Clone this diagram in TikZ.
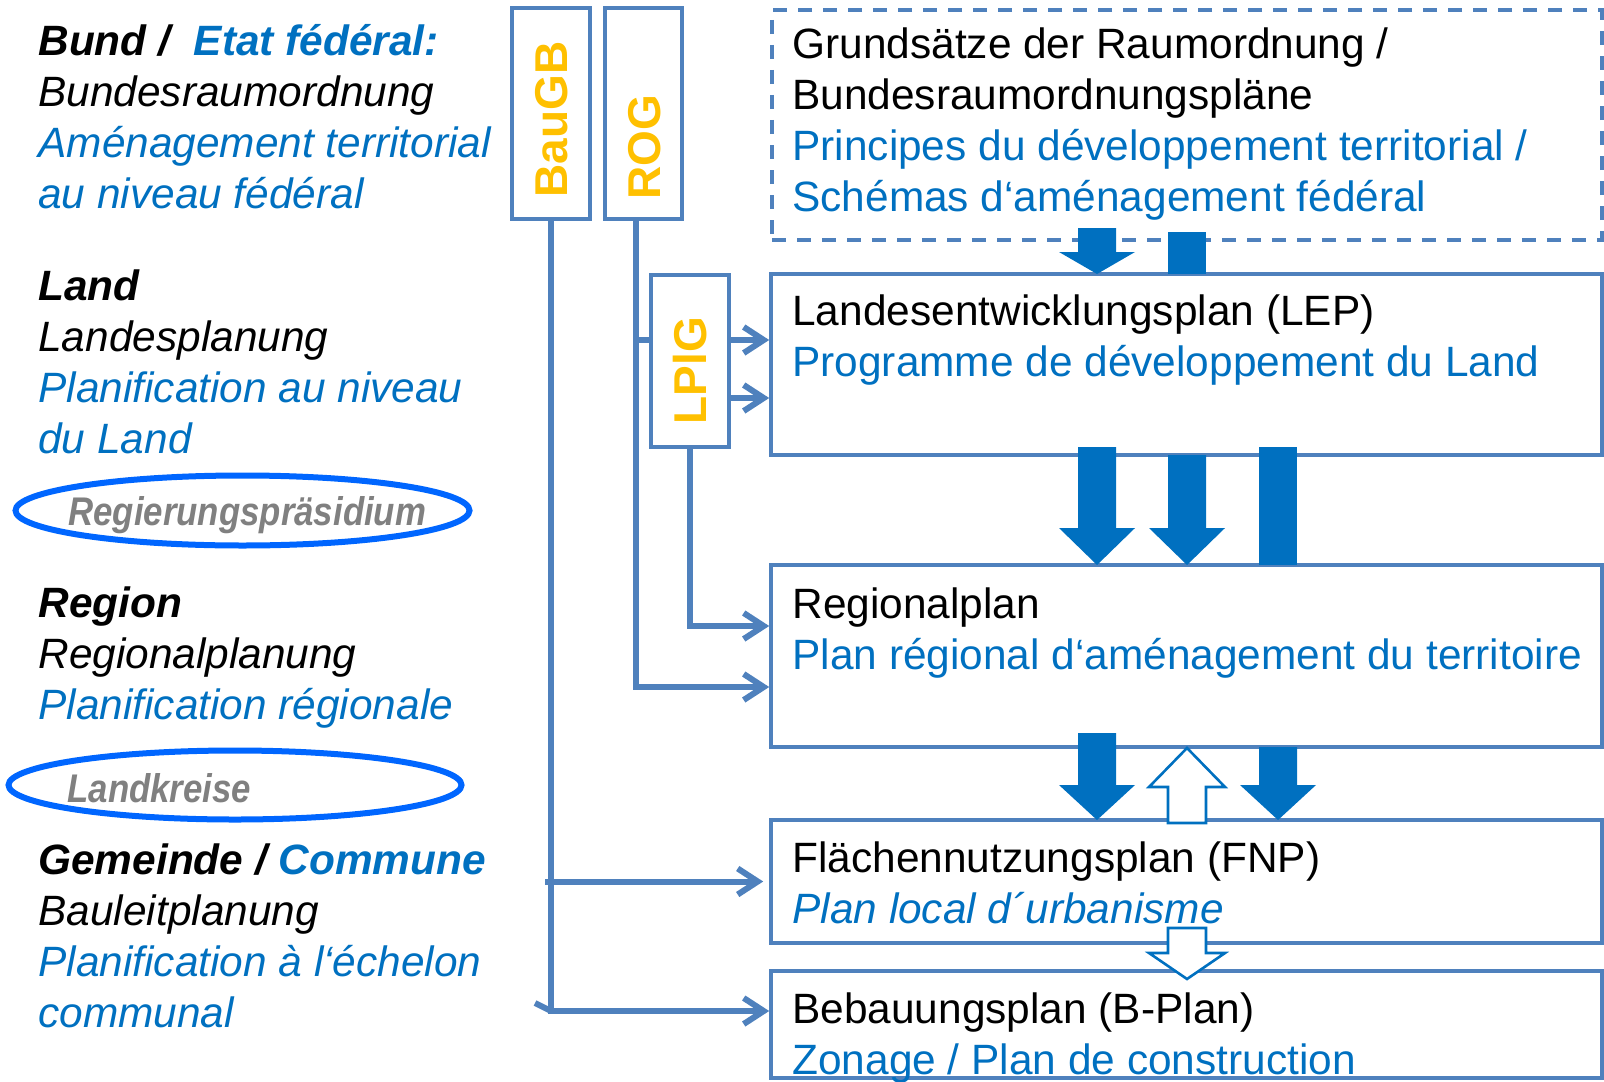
\documentclass[tikz,border=0pt]{standalone}
\usepackage{graphicx}
\usepackage{fontspec}
\setmainfont{Liberation Sans}
\usetikzlibrary{arrows.meta,shapes.geometric}

\definecolor{tblue}{HTML}{0070C0}
\definecolor{lineblue}{HTML}{4F81BD}
\definecolor{ovalblue}{HTML}{0066FF}
\definecolor{lawgold}{HTML}{FFC000}
\definecolor{kreisgray}{HTML}{808080}

% block arrow: x, tail y, head base y, tip y
\newcommand{\blockarrow}[5][fatarrow]{%
  \path[#1] (#2-19,#3) -- (#2+19,#3) -- (#2+19,#4) -- (#2+38,#4)
    -- (#2,#5) -- (#2-38,#4) -- (#2-19,#4) -- cycle;}
\newcommand{\narrow}[1]{\scalebox{0.87}[1]{#1}}

\begin{document}
\begin{tikzpicture}[x=0.5pt,y=-0.5pt,
  box/.style={draw=lineblue,line width=1.8pt,inner sep=0pt},
  lawbox/.style={box,minimum width=39pt,minimum height=105.5pt},
  plan/.style={box,minimum width=415.5pt},
  law/.style={text=lawgold,font=\fontsize{23}{27}\selectfont\bfseries,rotate=90,inner sep=0pt},
  txt/.style={anchor=north west,align=left,inner sep=0pt,font=\fontsize{21.2}{25.5}\selectfont},
  lefttxt/.style={txt,font=\fontsize{21.2}{25.5}\selectfont\itshape},
  oval/.style={draw=ovalblue,line width=3pt,ellipse,inner sep=0pt},
  authority/.style={anchor=base west,inner sep=0pt,text=kreisgray,font=\fontsize{20}{24}\selectfont\bfseries\itshape},
  conn/.style={draw=lineblue,line width=3pt,-{Straight Barb[length=10pt,width=13pt]}},
  fatarrow/.style={fill=tblue},
  openarrow/.style={draw=tblue,fill=white,line width=1.3pt}]

\useasboundingbox (0,0) rectangle (1604,1081);

% levels on the left
\node[lefttxt] (bund) at (38,19.3) {\strut\textbf{Bund /\ \ \textcolor{tblue}{Etat fédéral:}}\\
  Bundesraumordnung\\
  \textcolor{tblue}{Aménagement territorial}\\
  \textcolor{tblue}{au niveau fédéral}};
\node[lefttxt] (land) at (38,264.3) {\strut\textbf{Land}\\
  Landesplanung\\
  \textcolor{tblue}{Planification au niveau}\\
  \textcolor{tblue}{du Land}};
\node[lefttxt] (region) at (38,581.3) {\strut\textbf{Region}\\
  Regionalplanung\\
  \textcolor{tblue}{Planification régionale}};
\node[lefttxt] (gemeinde) at (38,838.3) {\strut\textbf{Gemeinde / \textcolor{tblue}{Commune}}\\
  Bauleitplanung\\
  \textcolor{tblue}{Planification à l‘échelon}\\
  \textcolor{tblue}{communal}};

\node[oval,minimum width=227pt,minimum height=35pt] (rpoval) at (242.5,510.5) {};
\node[authority] (rpraes) at (68,525) {\narrow{Regierungspräsidium}};
\node[oval,minimum width=226.5pt,minimum height=34.5pt] (lkoval) at (235,785) {};
\node[authority] (lkreise) at (67,802) {\narrow{Landkreise}};

% laws
\node[lawbox] (baugb) at (551,113.5) {};
\node[lawbox,minimum width=38.5pt] (rog) at (643.5,113.5) {};
\node[lawbox,minimum height=86pt] (lplg) at (690,361) {};
\node[law] (baugbtext) at (552,119.5) {BauGB};
\node[law] (rogtext) at (645,147) {ROG};
\node[law] (lplgtext) at (690,370.5) {LPlG};

% plans
\node[plan,minimum width=415pt,minimum height=115pt,line width=2pt,dash pattern=on 7pt off 5.5pt] (fed) at (1187,125) {};
\node[plan,minimum height=90.5pt] (lep) at (1186.5,364.5) {};
\node[plan,minimum height=91pt] (rp) at (1186.5,656) {};
\node[plan,minimum height=61.5pt] (fnp) at (1186.5,881.5) {};
\node[plan,minimum height=53.5pt] (bp) at (1186.5,1024.5) {};

\node[txt] (fedtext) at (792,22.3) {\strut Grundsätze der Raumordnung /\\
  Bundesraumordnungspläne\\
  \textcolor{tblue}{Principes du développement territorial /}\\
  \textcolor{tblue}{Schémas d‘aménagement fédéral}};
\node[txt] (leptext) at (792,289.3) {\strut Landesentwicklungsplan (LEP)\\
  \textcolor{tblue}{Programme de développement du Land}};
\node[txt] (rptext) at (792,582.3) {\strut Regionalplan\\
  \textcolor{tblue}{Plan régional d‘aménagement du territoire}};
\node[txt] (fnptext) at (792,836.3) {\strut Flächennutzungsplan (FNP)\\
  \textcolor{tblue}{\itshape Plan local d´urbanisme}};
\node[txt] (bptext) at (792,987.3) {\strut Bebauungsplan (B-Plan)\\
  \textcolor{tblue}{Zonage / Plan de construction}};

% connectors
\coordinate (rogfoot) at ([xshift=-4pt]rog.south);
\coordinate (baugbfoot) at ([xshift=-3pt]baugb.south);
\coordinate (lepA) at (0,340);
\coordinate (lepB) at (0,398);
\coordinate (rpA) at (0,626);
\coordinate (rpB) at (0,687);
\coordinate (bpA) at (0,1011);

\draw[conn] (rogfoot) |- (rp.west |- rpB);
\draw[conn,-] (rogfoot |- lepA) -- (lplg.west |- lepA);
\draw[conn] (lplg.east |- lepA) -- (lep.west |- lepA);
\draw[conn] (lplg.east |- lepB) -- (lep.west |- lepB);
\draw[conn] (lplg.south) |- (rp.west |- rpA);
\draw[conn] (baugb.south) |- (bp.west |- bpA);
\draw[conn] (baugbfoot |- fnp.west) -- ([xshift=-3pt]fnp.west);
\draw[conn,-] (baugb.south |- bpA) -- ++(-16,-8);

% block arrows
\blockarrow{1097}{228}{252}{274}
\fill[fatarrow] (1168,232) rectangle (1206,274);
\blockarrow{1097}{447}{528}{565}
\blockarrow{1187}{455}{528}{565}
\fill[fatarrow] (1259,447) rectangle (1297,565);
\blockarrow{1097}{733}{785}{820}
\blockarrow[openarrow]{1187}{823}{787}{748}
\blockarrow{1278}{747}{785}{820}
\blockarrow[openarrow]{1187}{928}{953}{979}

\end{tikzpicture}
\end{document}
